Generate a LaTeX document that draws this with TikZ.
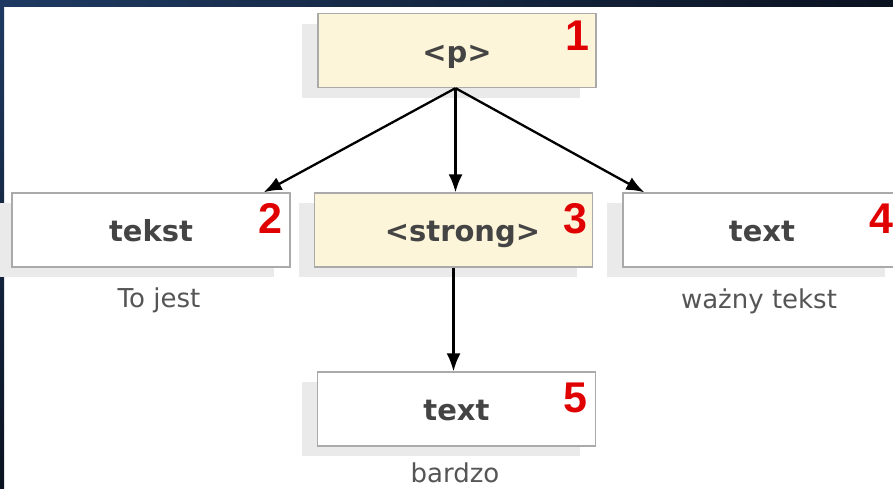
\documentclass[tikz,border=0pt]{standalone}
\usepackage{fontspec}
\setmainfont{DejaVu Sans}
\newfontfamily\numfont{Liberation Sans}
\usetikzlibrary{arrows.meta,shadows}
\definecolor{cream}{HTML}{FDF5D9}
\definecolor{boxline}{HTML}{AAAAAA}
\definecolor{shadowgray}{HTML}{EAEAEA}
\definecolor{labelgray}{HTML}{444444}
\definecolor{capgray}{HTML}{555555}
\definecolor{numred}{HTML}{E00000}
\definecolor{bgdark}{HTML}{0B1220}
\definecolor{bgblue}{HTML}{1E3A62}
\tikzset{
  treebox/.style={draw=boxline, line width=1.3pt, minimum width=278pt, minimum height=74pt,
    inner sep=0pt, text height=29pt, text depth=6pt, text=labelgray,
    font=\fontsize{29}{32}\selectfont\bfseries,
    drop shadow={shadow xshift=-16pt, shadow yshift=-10pt, fill=shadowgray, opacity=1}},
  whitebox/.style={treebox, fill=white},
  yellowbox/.style={treebox, fill=cream},
  numlabel/.style={anchor=base, text=numred, inner sep=0pt, font=\numfont\fontsize{43}{46}\selectfont\bfseries},
  caption/.style={anchor=base, text=capgray, inner sep=0pt, font=\fontsize{26}{28}\selectfont},
  conn/.style={line width=2.3pt, -{Latex[length=18pt,width=14pt]}}
}
\begin{document}
\begin{tikzpicture}[x=1pt, y=-1pt]
\useasboundingbox (0,0) rectangle (893,488);
\clip (0,0) rectangle (893,488);
\fill[white] (0,0) rectangle (893,488);
\shade[left color=bgblue, right color=bgdark] (0,0) rectangle (893,6);
\shade[top color=bgblue, bottom color=bgdark] (0,0) rectangle (4,488);

\node[yellowbox] (n1) at (457,50.5) {<p>};
\node[whitebox] (n2) at (151,230) {tekst};
\node[yellowbox] (n3) at (453.5,230) {\hspace*{18pt}<strong>};
\node[whitebox] (n4) at (762,230) {text};
\node[whitebox] (n5) at (456.5,409) {text};

\node[numlabel] (k1) at (577,50) {1};
\node[numlabel] (k2) at (270,233) {2};
\node[numlabel] (k3) at (575,233) {3};
\node[numlabel] (k4) at (881,233) {4};
\node[numlabel] (k5) at (575,412) {5};

\node[caption] (c2) at (159,307) {To jest};
\node[caption] (c4) at (759,308) {ważny tekst};
\node[caption] (c5) at (455,482) {bardzo};

\coordinate (top) at ([xshift=-1.5pt]n1.south);
\draw[conn] (top) -- ([xshift=-27pt]n2.north east);
\draw[conn] (top) -- (top |- n3.north);
\draw[conn] (top) -- ([xshift=22pt]n4.north west);
\draw[conn] (n3.south) -- (n3.south |- n5.north);
\end{tikzpicture}
\end{document}
